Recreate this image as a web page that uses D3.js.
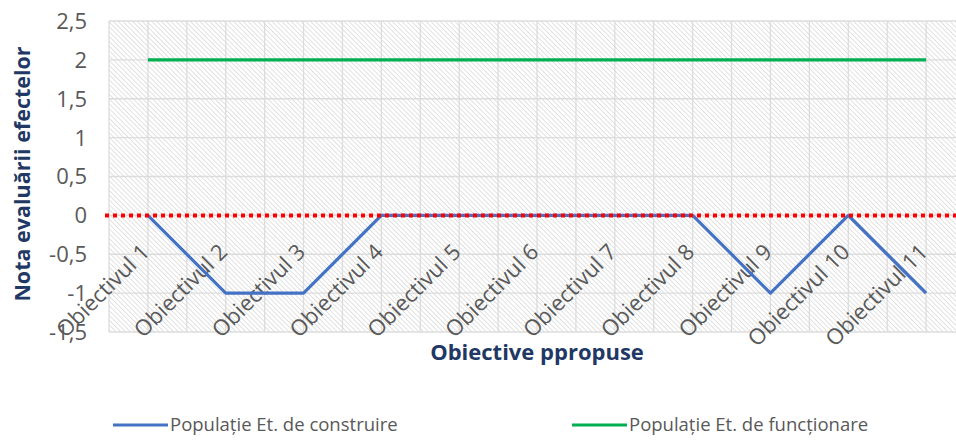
<!DOCTYPE html>
<html>
<head>
<meta charset="utf-8">
<script src="https://cdn.jsdelivr.net/npm/d3@7"></script>
<style>
  body { margin: 0; background: #fff; }
  svg text { font-family: "Open Sans", "Noto Sans", sans-serif; }
</style>
</head>
<body>
<div id="container"></div>
<script>
const categories = ['Obiectivul 1', 'Obiectivul 2', 'Obiectivul 3', 'Obiectivul 4', 'Obiectivul 5',
    'Obiectivul 6', 'Obiectivul 7', 'Obiectivul 8', 'Obiectivul 9', 'Obiectivul 10', 'Obiectivul 11'];
const constructie = [0, -1, -1, 0, 0, 0, 0, 0, -1, 0, -1];
const functionare = [2, 2, 2, 2, 2, 2, 2, 2, 2, 2, 2];
const yTicks = [-1.5, -1, -0.5, 0, 0.5, 1, 1.5, 2, 2.5];
const seriesNames = ['Populație Et. de construire', 'Populație Et. de funcționare'];
const seriesColors = ['#4472C4', '#00B050'];

const width = 956;
const height = 441;
const plot = { left: 109, right: 965, top: 21, bottom: 332 };

const svg = d3.select('#container').append('svg')
    .attr('width', width)
    .attr('height', height);

// hasura din fundal
const defs = svg.append('defs');
const pat = defs.append('pattern')
    .attr('id', 'hatch')
    .attr('patternUnits', 'userSpaceOnUse')
    .attr('width', 3.4)
    .attr('height', 3.4)
    .attr('patternTransform', 'rotate(-45)');
pat.append('rect').attr('width', 3.4).attr('height', 3.4).attr('fill', '#fff');
pat.append('line')
    .attr('x1', 0).attr('y1', 0).attr('x2', 0).attr('y2', 3.4)
    .attr('stroke', '#d6d6d6')
    .attr('stroke-width', 1.4);

const x = d3.scaleBand()
    .domain(categories)
    .range([plot.left, plot.right]);
const y = d3.scaleLinear()
    .domain([-1.5, 2.5])
    .range([plot.bottom, plot.top]);

const ro = d3.formatLocale({ decimal: ',', thousands: '.', grouping: [3], currency: ['', ''], minus: '-' });
const fmt = ro.format('~g');

svg.append('rect')
    .attr('x', plot.left)
    .attr('y', plot.top)
    .attr('width', plot.right - plot.left)
    .attr('height', plot.bottom - plot.top)
    .attr('fill', 'url(#hatch)');

const grid = svg.append('g').attr('stroke', '#dcdcdc').attr('stroke-width', 1.3);
grid.selectAll('line.h')
    .data(yTicks)
    .enter()
    .append('line')
    .attr('x1', plot.left)
    .attr('x2', plot.right)
    .attr('y1', d => y(d))
    .attr('y2', d => y(d));

// linii verticale la fiecare jumatate de categorie
const halfSteps = d3.range(categories.length * 2 + 1);
grid.selectAll('line.v')
    .data(halfSteps)
    .enter()
    .append('line')
    .attr('x1', d => plot.left + d * x.bandwidth() / 2)
    .attr('x2', d => plot.left + d * x.bandwidth() / 2)
    .attr('y1', plot.top)
    .attr('y2', plot.bottom);

// etichete axa Y
svg.append('g')
    .selectAll('text')
    .data(yTicks)
    .enter()
    .append('text')
    .attr('x', 87)
    .attr('y', d => y(d))
    .attr('dy', '0.36em')
    .attr('text-anchor', 'end')
    .attr('fill', '#595959')
    .attr('font-size', 22)
    .text(d => fmt(d));

const cx = d => x(d) + x.bandwidth() / 2;

// etichete categorii, rotite
svg.append('g')
    .selectAll('text')
    .data(categories)
    .enter()
    .append('text')
    .attr('transform', d => `translate(${cx(d) + 3},${y(0) + 38}) rotate(-45)`)
    .attr('text-anchor', 'end')
    .attr('fill', '#595959')
    .attr('font-size', 22)
    .text(d => d);

const line = d3.line()
    .x((d, i) => cx(categories[i]))
    .y(d => y(d));

svg.append('path')
    .datum(constructie)
    .attr('fill', 'none')
    .attr('stroke', seriesColors[0])
    .attr('stroke-width', 3.2)
    .attr('stroke-linejoin', 'round')
    .attr('d', line);

svg.append('path')
    .datum(functionare)
    .attr('fill', 'none')
    .attr('stroke', seriesColors[1])
    .attr('stroke-width', 3.2)
    .attr('d', line);

// linia rosie punctata la zero
svg.append('line')
    .attr('x1', plot.left - 4)
    .attr('x2', width)
    .attr('y1', y(0))
    .attr('y2', y(0))
    .attr('stroke', '#ff0000')
    .attr('stroke-width', 4)
    .attr('stroke-dasharray', '4,4');

// titluri axe
svg.append('text')
    .attr('transform', `translate(30,174) rotate(-90)`)
    .attr('text-anchor', 'middle')
    .attr('fill', '#1F3864')
    .attr('font-weight', 'bold')
    .attr('font-size', 21.5)
    .text('Nota evaluării efectelor');

svg.append('text')
    .attr('x', 537)
    .attr('y', 360)
    .attr('text-anchor', 'middle')
    .attr('fill', '#1F3864')
    .attr('font-weight', 'bold')
    .attr('font-size', 22)
    .text('Obiective ppropuse');

// legenda
const legendX = [113, 572];
const legend = svg.append('g')
    .selectAll('g')
    .data(seriesNames)
    .enter()
    .append('g')
    .attr('transform', (d, i) => `translate(${legendX[i]},425)`);
legend.append('line')
    .attr('x1', 0).attr('x2', 55)
    .attr('stroke', (d, i) => seriesColors[i])
    .attr('stroke-width', 3);
legend.append('text')
    .attr('x', 57)
    .attr('dy', '0.35em')
    .attr('fill', '#595959')
    .attr('font-size', 18.5)
    .text(d => d);
</script>
</body>
</html>
